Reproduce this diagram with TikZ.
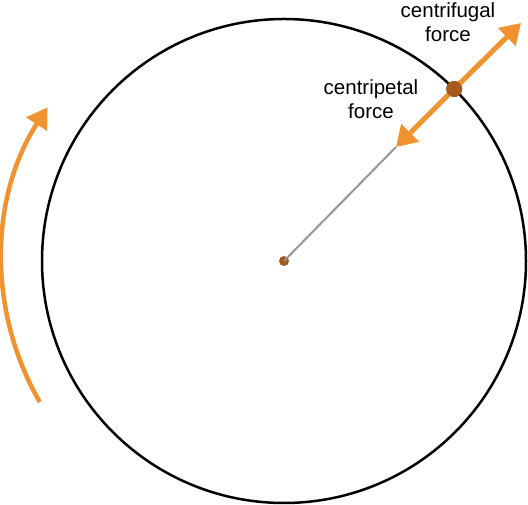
\documentclass[tikz,border=0pt]{standalone}
\usepackage{fontspec}
\setmainfont{Liberation Sans}
\definecolor{forceorange}{RGB}{240,146,46}
\definecolor{massbrown}{RGB}{166,90,30}
\definecolor{radiusgray}{RGB}{150,150,150}
\usetikzlibrary{arrows.meta,positioning,calc}

\begin{document}
\begin{tikzpicture}[x=1pt, y=1pt,
        lbl/.style={align=center, font=\fontsize{20.5}{23.5}\selectfont, inner sep=0pt},
        farr/.style={-{Triangle[length=20pt, width=24pt]}, line width=5pt, forceorange},
        spot/.style={circle, fill=massbrown, inner sep=0pt}
      ]
        \useasboundingbox (0,0) rectangle (528,505);

        % orbit
        \node[spot, minimum size=10pt] (c) at (284,244) {};
        \draw[line width=2.5pt] (c.center) circle[radius=242];
        \coordinate (cin) at (396,358);
        \draw[radiusgray, line width=2pt] (c.center) -- (cin);

        % rotation direction
        \coordinate (rs) at ($(c.center)+(210:282)$);
        \draw[farr, line width=4.5pt] (rs) arc[start angle=210, end angle=147, radius=282];

        % forces on the mass
        \node[spot, minimum size=16pt] (m) at ($(c.center)+(45.3:242)$) {};
        \coordinate (cout) at (521,482);
        \draw[farr, shorten <=-1pt] (m.center) -- (cout);
        \draw[farr] (m.center) -- (cin);
        \node[spot, minimum size=16pt] at (m) {};

        % labels
        \node[lbl] (fug) at (448,483) {centrifugal\\force};
        \node[lbl] (pet) at (371,406) {centripetal\\force};
      \end{tikzpicture}
\end{document}
